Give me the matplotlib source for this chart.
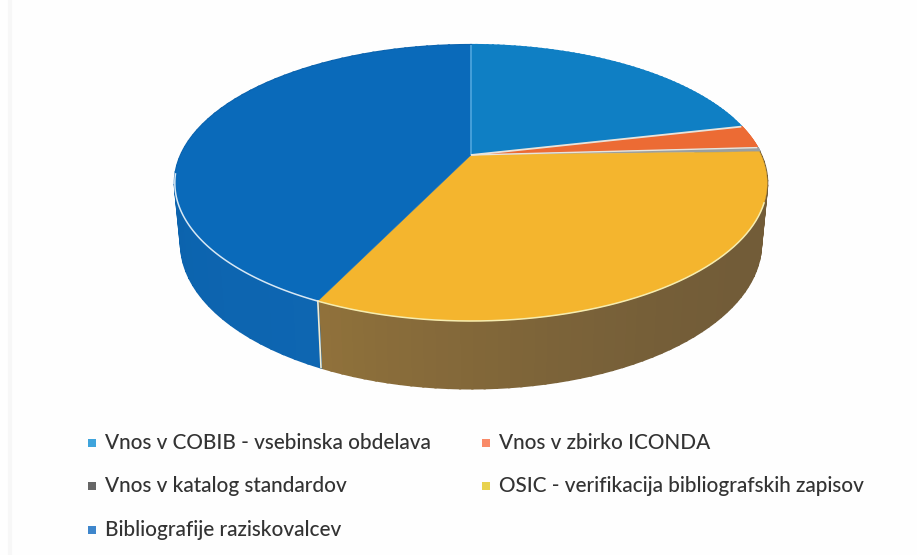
import numpy as np
import matplotlib
matplotlib.use('Agg')
import matplotlib.pyplot as plt

labels = ['Vnos v COBIB - vsebinska obdelava', 'Vnos v zbirko ICONDA', 'Vnos v katalog standardov',
          'OSIC - verifikacija bibliografskih zapisov', 'Bibliografije raziskovalcev']
values = [21.4, 2.7, 0.5, 32.5, 42.9]

top_colors = ['#0F7FC4', '#EC6B34', '#9A9FA0', '#F4B52E', '#0A6ABA']
marker_colors = ['#3FA4DC', '#F98A68', '#666666', '#E8D24E', '#3E86CC']
side_left = ['#0F7FC4', '#EC6B34', '#9A9FA0', '#B58C3E', '#0B62AC']
side_right = ['#0F7FC4', '#EC6B34', '#9A9FA0', '#725C38', '#1069B6']

CX = 471
K = 0.203


# kruh v perspektivi: kot se meri od vrha v smeri urinega kazalca
def project(angle, a, b, y0):
    u = np.sin(angle)
    v = np.cos(angle)
    w = 1 + K * v
    return CX + a * u / w, y0 - b * v / w


def top_rim(angle):
    return project(angle, 290, 132.3, 155)


def low_rim(angle):
    return project(angle, 284, 139, 214)


def mix(c1, c2, t):
    a = np.array(matplotlib.colors.to_rgb(c1))
    b = np.array(matplotlib.colors.to_rgb(c2))
    return a + (b - a) * t


fig = plt.figure(figsize=(9.17, 5.55), dpi=100, facecolor='#FEFEFE')
ax = fig.add_axes([0, 0, 1, 1])
ax.set_xlim(0, 917)
ax.set_ylim(555, 0)
ax.axis('off')

ax.axvline(10, color='#F7F7F7', lw=3, zorder=0)

edges = np.radians(np.concatenate([[0], np.cumsum(values)]) / sum(values) * 360)

# stranice
for i in range(len(values)):
    steps = np.linspace(edges[i], edges[i + 1], 60)
    for j in range(len(steps) - 1):
        seg = np.linspace(steps[j], steps[j + 1], 3)
        x1, y1 = top_rim(seg)
        x2, y2 = low_rim(seg[::-1])
        t = (np.cos(steps[j] - np.radians(120)) + 1) / 2
        col = mix(side_left[i], side_right[i], t)
        ax.fill(np.r_[x1, x2], np.r_[y1, y2], color=col, lw=1.6, zorder=1)

# zgornja ploskev
for i in range(len(values)):
    seg = np.linspace(edges[i], edges[i + 1], 200)
    x, y = top_rim(seg)
    ax.fill(np.r_[CX, x], np.r_[155, y], color=top_colors[i], lw=0.3, zorder=2)

# svetle crte med rezinami
separators = [(0, '#4AA3DC', 1.3), (1, '#E8E4DC', 1.3), (2, '#E8E4DC', 1.0)]
for i, col, lw in separators:
    xe, ye = top_rim(edges[i])
    ax.plot([CX, xe], [155, ye], color=col, lw=lw, zorder=3, solid_capstyle='butt')

# rob na sprednji strani
seg = np.linspace(edges[3], edges[4], 200)
x, y = top_rim(seg)
mask = y > 202
ax.plot(x[mask], y[mask], color='#F6EDB0', lw=1.1, zorder=3)
seg = np.linspace(edges[4], np.radians(262), 100)
x, y = top_rim(seg)
ax.plot(x, y, color='#D8E8F4', lw=1.1, zorder=3)

# spoj rumena/modra na stranici
xa, ya = top_rim(edges[4])
xb, yb = low_rim(edges[4])
ax.plot([xa, xb], [ya, yb], color='#F2EBD0', lw=1.2, zorder=3)

# legenda
legend_x = [92, 486, 92, 486, 92]
legend_y = [443, 443, 486, 486, 530]
for lab, col, lx, ly in zip(labels, marker_colors, legend_x, legend_y):
    ax.scatter([lx], [ly], marker='s', s=34, color=col, lw=0, zorder=4)
    ax.text(lx + 13, ly, lab, fontsize=14.95, family='Lato', fontweight='medium',
            color='#333333', va='center', ha='left')

fig.savefig('out.png', dpi=100, facecolor=fig.get_facecolor())
